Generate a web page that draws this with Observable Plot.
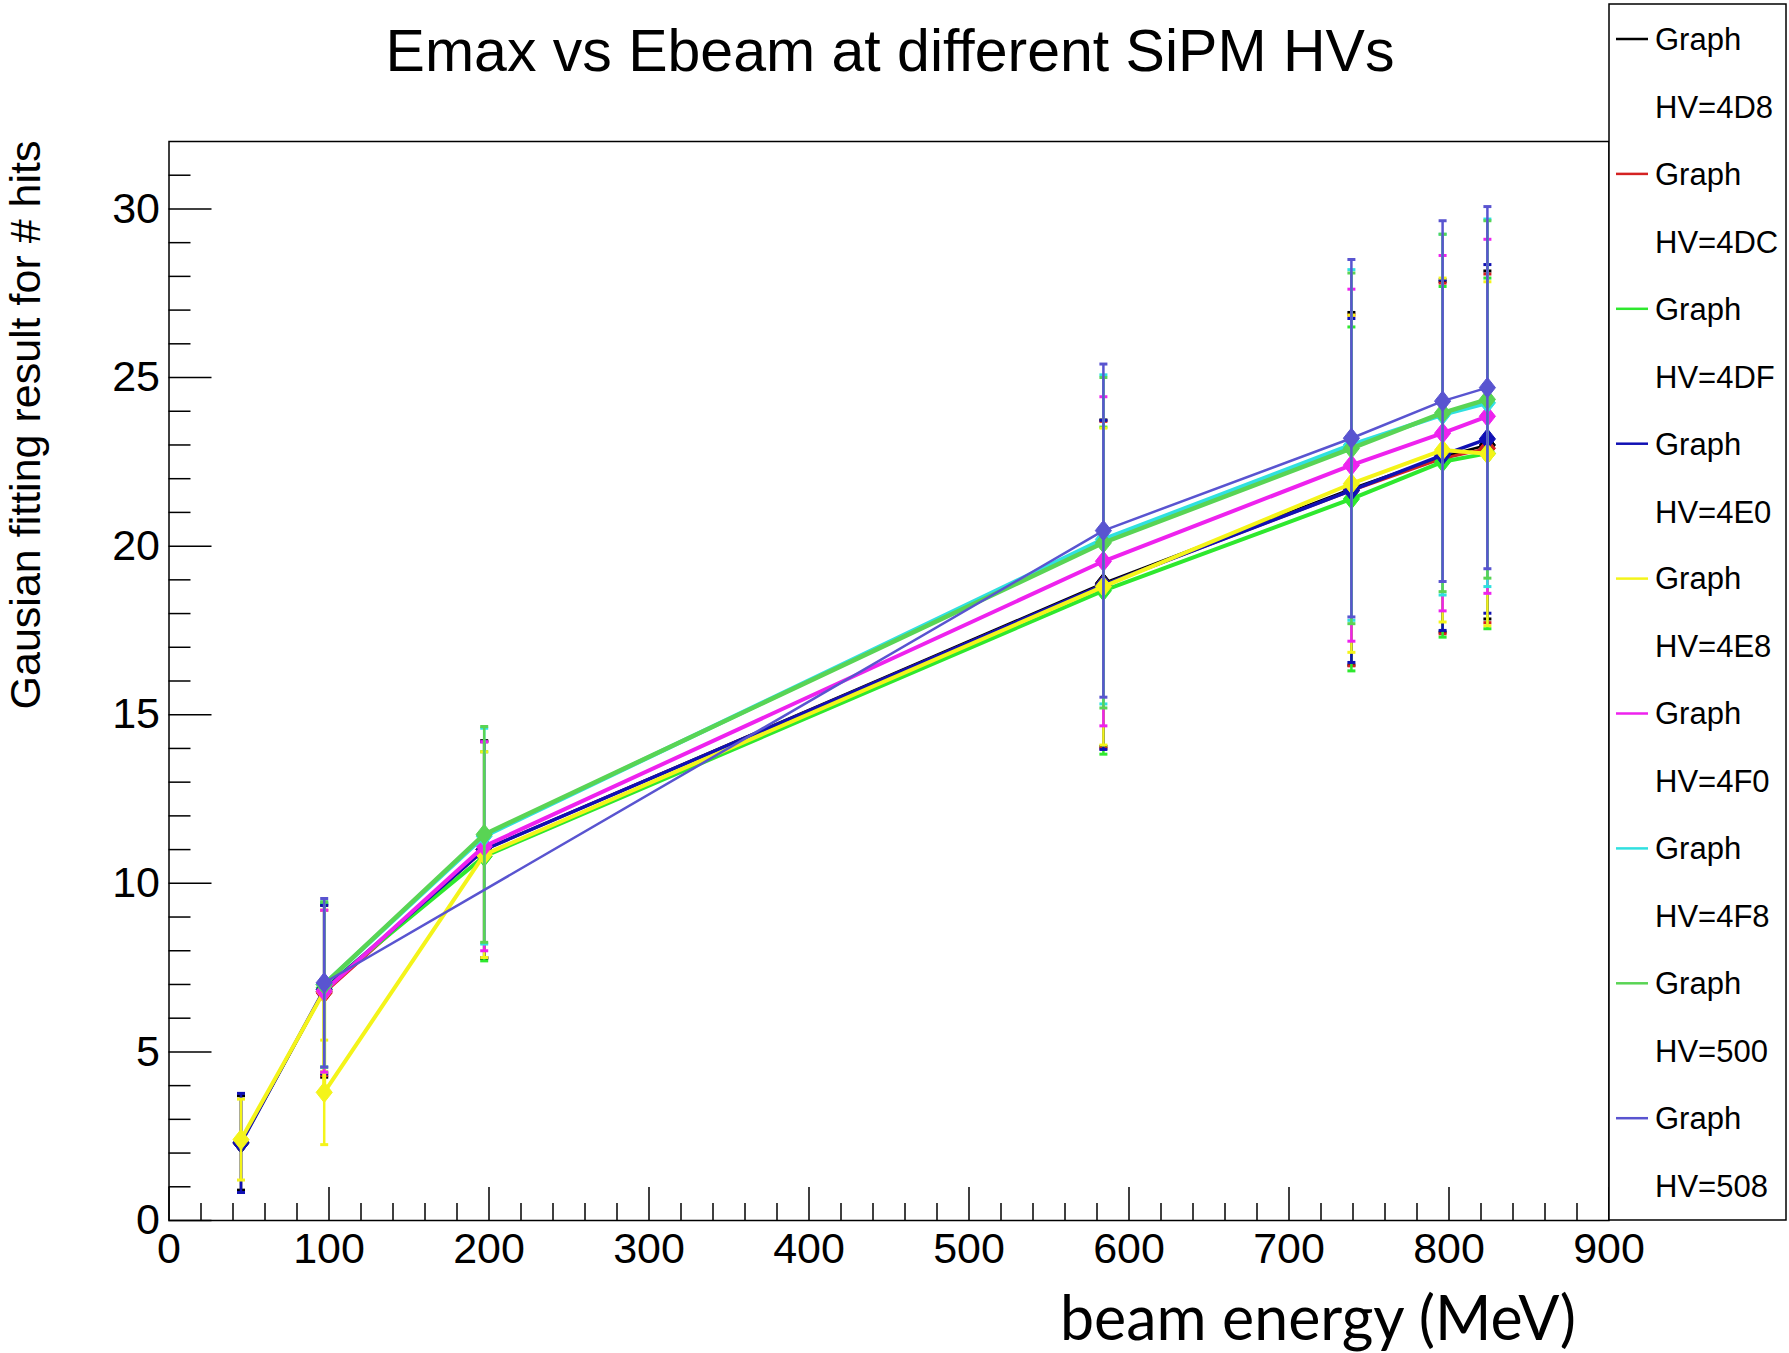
<!DOCTYPE html>
<html>
<head>
<meta charset="utf-8">
<script src="https://cdn.jsdelivr.net/npm/d3@7"></script>
<script src="https://cdn.jsdelivr.net/npm/@observablehq/plot@0.6"></script>
<style>
  body { margin: 0; background: #fff; }
  #chart { position: relative; width: 1789px; height: 1353px; overflow: hidden; }
</style>
</head>
<body>
<div id="chart"></div>
<script>
// ---------------- data ----------------
const titleText = "Emax vs Ebeam at different SiPM HVs";
const xLabelText = "beam energy (MeV)";
const yLabelText = "Gausian fitting result for # hits";

const xTicksMajor = [0, 100, 200, 300, 400, 500, 600, 700, 800, 900];
const yTicksMajor = [0, 5, 10, 15, 20, 25, 30];

const legendGraph = "Graph";
const legendLabels = ["HV=4D8", "HV=4DC", "HV=4DF", "HV=4E0", "HV=4E8", "HV=4F0", "HV=4F8", "HV=500", "HV=508"];

// HV=4D8 (black)
const xHV4D8 = [45, 97, 197, 584, 739, 796, 824];
const yHV4D8 = [2.3, 6.8, 11.0, 18.9, 21.7, 22.65, 23.0];
const eHV4D8 = [1.4, 2.55, 3.23, 4.84, 5.23, 5.2, 5.16];
// HV=4DC (red)
const xHV4DC = [97, 197, 584, 739, 796, 824];
const yHV4DC = [6.75, 11.0, 18.85, 21.65, 22.6, 22.9];
const eHV4DC = [2.45, 3.2, 4.85, 5.2, 5.2, 5.17];
// HV=4DF (green)
const xHV4DF = [97, 197, 584, 739, 796, 824];
const yHV4DF = [6.9, 10.8, 18.68, 21.4, 22.5, 22.75];
const eHV4DF = [2.5, 3.1, 4.85, 5.1, 5.2, 5.2];
// HV=4E0 (blue)
const xHV4E0 = [45, 97, 197, 584, 739, 796, 824];
const yHV4E0 = [2.3, 6.85, 11.0, 18.85, 21.65, 22.7, 23.18];
const eHV4E0 = [1.47, 2.5, 3.2, 4.88, 5.1, 5.2, 5.17];
// HV=4E8 (yellow)
const xHV4E8 = [45, 97, 97, 197, 584, 739, 796, 824];
const yHV4E8 = [2.4, 6.8, 3.8, 10.85, 18.8, 21.85, 22.85, 22.74];
const eHV4E8 = [1.2, 2.4, 1.55, 3.05, 4.7, 5.0, 5.1, 5.1];
// HV=4F0 (magenta)
const xHV4F0 = [97, 197, 584, 739, 796, 824];
const yHV4F0 = [6.8, 11.1, 19.55, 22.4, 23.35, 23.85];
const eHV4F0 = [2.4, 3.1, 4.88, 5.22, 5.27, 5.25];
// HV=4F8 (cyan)
const xHV4F8 = [97, 197, 584, 739, 796, 824];
const yHV4F8 = [7.0, 11.4, 20.2, 23.0, 23.9, 24.25];
const eHV4F8 = [2.45, 3.2, 4.88, 5.2, 5.35, 5.45];
// HV=500 (green 8)
const xHV500 = [97, 197, 584, 739, 796, 824];
const yHV500 = [7.0, 11.45, 20.1, 22.9, 23.95, 24.35];
const eHV500 = [2.45, 3.2, 4.9, 5.2, 5.3, 5.3];
// HV=508 (slate blue)
const xHV508 = [97, 584, 739, 796, 824];
const yHV508 = [7.05, 20.46, 23.2, 24.3, 24.7];
const eHV508 = [2.5, 4.94, 5.3, 5.35, 5.37];

// ---------------- styles ----------------
const seriesColors = ["#000000", "#d42222", "#2ee82e", "#1010b4", "#f4f41a", "#ee22ee", "#30e0e0", "#59d454", "#5954d0"];
const seriesWidths = [2.5, 3, 4, 3.5, 4, 4, 4.5, 4.5, 2.5];
const seriesX = [xHV4D8, xHV4DC, xHV4DF, xHV4E0, xHV4E8, xHV4F0, xHV4F8, xHV500, xHV508];
const seriesY = [yHV4D8, yHV4DC, yHV4DF, yHV4E0, yHV4E8, yHV4F0, yHV4F8, yHV500, yHV508];
const seriesE = [eHV4D8, eHV4DC, eHV4DF, eHV4E0, eHV4E8, eHV4F0, eHV4F8, eHV500, eHV508];

const W = 1789, H = 1353;
const frameLeft = 168.5, frameRight = 1608.5, frameTop = 141, frameBottom = 1220;
const frameW = frameRight - frameLeft, frameH = frameBottom - frameTop;
const rootFont = "'Liberation Sans', Arial, Helvetica, sans-serif";

const yMinor = d3.range(1, 32).filter(v => v % 5 !== 0);
const xMinor = d3.range(20, 900, 20).filter(v => v % 100 !== 0);

const capSymbol = {
  draw(ctx, size) {
    const r = Math.sqrt(size / Math.PI);
    ctx.moveTo(-r, 0); ctx.lineTo(r, 0);
  }
};
const diamondSymbol = {
  draw(ctx, size) {
    const r = Math.sqrt(size / Math.PI);
    ctx.moveTo(0, -r * 1.2);
    ctx.lineTo(r * 0.95, 0);
    ctx.lineTo(0, r * 1.2);
    ctx.lineTo(-r * 0.95, 0);
    ctx.closePath();
  }
};

const marks = [];
// ROOT-style inward ticks
marks.push(Plot.tickY(yTicksMajor, {y: d => d, insetRight: frameW - 43, stroke: "#000", strokeWidth: 1.5}));
marks.push(Plot.tickY(yMinor, {y: d => d, insetRight: frameW - 22, stroke: "#000", strokeWidth: 1.5}));
marks.push(Plot.tickX(xTicksMajor, {x: d => d, insetTop: frameH - 33, stroke: "#000", strokeWidth: 1.5}));
marks.push(Plot.tickX(xMinor, {x: d => d, insetTop: frameH - 17, stroke: "#000", strokeWidth: 1.5}));

seriesX.forEach((xs, k) => {
  const data = xs.map((x, i) => ({x, y: seriesY[k][i], e: seriesE[k][i]}));
  const c = seriesColors[k];
  marks.push(Plot.line(data, {x: "x", y: "y", stroke: c, strokeWidth: seriesWidths[k], curve: "linear"}));
  marks.push(Plot.ruleX(data, {x: "x", y1: d => d.y - d.e, y2: d => d.y + d.e, stroke: c, strokeWidth: 2.5}));
  marks.push(Plot.dot(data, {x: "x", y: d => d.y + d.e, symbol: capSymbol, r: 4, stroke: c, strokeWidth: 3, fill: "none"}));
  marks.push(Plot.dot(data, {x: "x", y: d => d.y - d.e, symbol: capSymbol, r: 4, stroke: c, strokeWidth: 3, fill: "none"}));
  marks.push(Plot.dot(data, {x: "x", y: "y", symbol: diamondSymbol, r: 8.5, fill: c, stroke: c, strokeWidth: 1}));
});
marks.push(Plot.frame({stroke: "#000", strokeWidth: 1.5}));

const svg = Plot.plot({
  width: W,
  height: H,
  marginLeft: frameLeft,
  marginRight: W - frameRight,
  marginTop: frameTop,
  marginBottom: H - frameBottom,
  style: {fontFamily: rootFont, fontSize: "43px", background: "#fff", color: "#000", overflow: "visible"},
  x: {domain: [0, 900], ticks: xTicksMajor, tickSize: 0, tickPadding: 12, label: null, tickFormat: d => String(d)},
  y: {domain: [0, 32], ticks: yTicksMajor, tickSize: 0, tickPadding: 9, label: null, tickFormat: d => String(d)},
  marks
});
document.getElementById("chart").appendChild(svg);

// ---------------- texts & legend ----------------
const s = d3.select(svg);
s.append("text")
  .attr("x", 890).attr("y", 71)
  .attr("text-anchor", "middle")
  .style("font-family", rootFont).style("font-size", "59px").attr("fill", "#000")
  .text(titleText);

s.append("text")
  .attr("transform", "translate(40,425) rotate(-90)")
  .attr("text-anchor", "middle")
  .style("font-family", rootFont).style("font-size", "43px").attr("fill", "#000")
  .text(yLabelText);

s.append("text")
  .attr("x", 1060).attr("y", 1340)
  .attr("text-anchor", "start")
  .attr("textLength", 516).attr("lengthAdjust", "spacingAndGlyphs")
  .style("font-family", "Lato, 'Open Sans', sans-serif").style("font-size", "62px").attr("fill", "#000")
  .text(xLabelText);

const lg = s.append("g").attr("text-anchor", "start");
lg.append("rect")
  .attr("x", 1609).attr("y", 4).attr("width", 177).attr("height", 1216)
  .attr("fill", "#fff").attr("stroke", "#000").attr("stroke-width", 1.5);
legendLabels.forEach((lab, i) => {
  const yG = 39 + i * 134.9;
  const yH = 107 + i * 134.9;
  lg.append("line")
    .attr("x1", 1616).attr("x2", 1648).attr("y1", yG).attr("y2", yG)
    .attr("stroke", seriesColors[i]).attr("stroke-width", 2.5);
  lg.append("text")
    .attr("x", 1655).attr("y", yG).attr("dy", "0.35em")
    .attr("text-anchor", "start")
    .style("font-family", rootFont).style("font-size", "31px").attr("fill", "#000")
    .text(legendGraph);
  lg.append("text")
    .attr("x", 1655).attr("y", yH).attr("dy", "0.35em")
    .attr("text-anchor", "start")
    .style("font-family", rootFont).style("font-size", "31px").attr("fill", "#000")
    .text(lab);
});
</script>
</body>
</html>
